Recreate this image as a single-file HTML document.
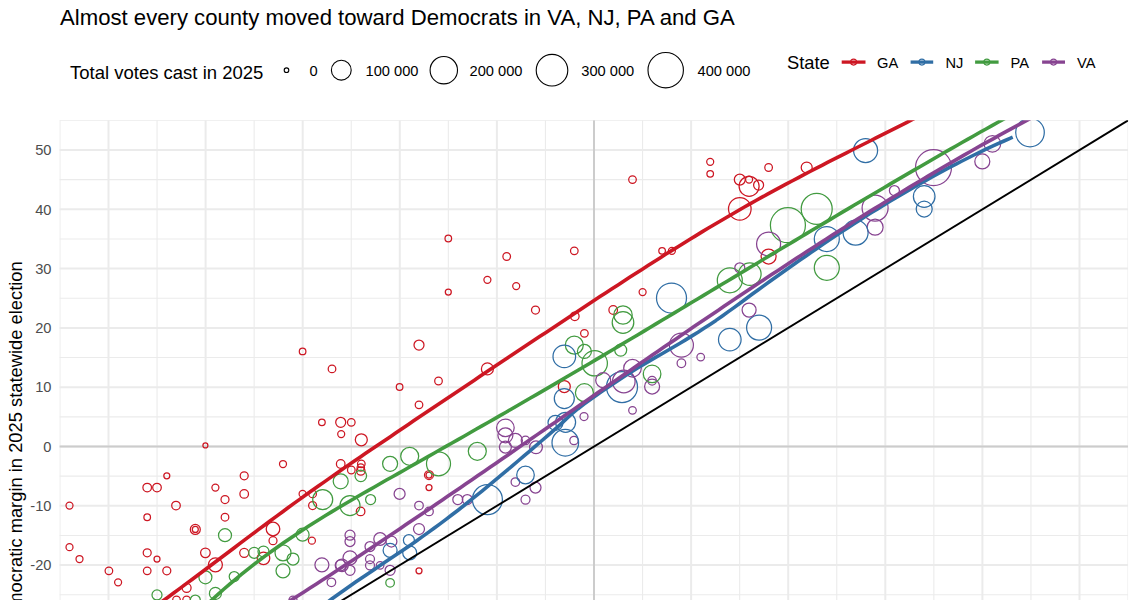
<!DOCTYPE html><html><head><meta charset="utf-8"><style>html,body{margin:0;padding:0;background:#fff;width:1137px;height:600px;overflow:hidden}svg{display:block}text{font-family:"Liberation Sans",sans-serif}</style></head><body>
<svg width="1137" height="600" viewBox="0 0 1137 600">
<rect width="1137" height="600" fill="#fff"/>
<text x="60" y="25" font-size="22.15" fill="#000">Almost every county moved toward Democrats in VA, NJ, PA and GA</text>
<text x="70" y="78.5" font-size="18.5" fill="#000">Total votes cast in 2025</text>
<circle cx="286.5" cy="70.2" r="2.3" fill="none" stroke="#000" stroke-width="1.1"/>
<text x="309.5" y="75.8" font-size="14.67" fill="#000">0</text>
<circle cx="341.3" cy="70.2" r="9.9" fill="none" stroke="#000" stroke-width="1.1"/>
<text x="365.5" y="75.8" font-size="14.67" fill="#000">100 000</text>
<circle cx="443.8" cy="70.2" r="13.7" fill="none" stroke="#000" stroke-width="1.1"/>
<text x="469.5" y="75.8" font-size="14.67" fill="#000">200 000</text>
<circle cx="552" cy="70.2" r="15.8" fill="none" stroke="#000" stroke-width="1.1"/>
<text x="581.3" y="75.8" font-size="14.67" fill="#000">300 000</text>
<circle cx="665.7" cy="70.2" r="17.7" fill="none" stroke="#000" stroke-width="1.1"/>
<text x="697.5" y="75.8" font-size="14.67" fill="#000">400 000</text>
<text x="787" y="68.8" font-size="18.33" fill="#000">State</text>
<line x1="841.7" y1="62.1" x2="865.5" y2="62.1" stroke="#CD1723" stroke-width="3.3"/>
<circle cx="853.6" cy="62.1" r="3" fill="none" stroke="#CD1723" stroke-width="1.1"/>
<text x="877" y="67.8" font-size="14.67" fill="#000">GA</text>
<line x1="910.6" y1="62.1" x2="933.2" y2="62.1" stroke="#306EA5" stroke-width="3.3"/>
<circle cx="921.9000000000001" cy="62.1" r="3" fill="none" stroke="#306EA5" stroke-width="1.1"/>
<text x="945.5" y="67.8" font-size="14.67" fill="#000">NJ</text>
<line x1="975.1" y1="62.1" x2="998.6" y2="62.1" stroke="#429B40" stroke-width="3.3"/>
<circle cx="986.85" cy="62.1" r="3" fill="none" stroke="#429B40" stroke-width="1.1"/>
<text x="1010.5" y="67.8" font-size="14.67" fill="#000">PA</text>
<line x1="1042.1" y1="62.1" x2="1065" y2="62.1" stroke="#874491" stroke-width="3.3"/>
<circle cx="1053.55" cy="62.1" r="3" fill="none" stroke="#874491" stroke-width="1.1"/>
<text x="1077" y="67.8" font-size="14.67" fill="#000">VA</text>
<text x="51.5" y="155.20" font-size="14.67" fill="#4D4D4D" text-anchor="end">50</text>
<text x="51.5" y="214.50" font-size="14.67" fill="#4D4D4D" text-anchor="end">40</text>
<text x="51.5" y="273.80" font-size="14.67" fill="#4D4D4D" text-anchor="end">30</text>
<text x="51.5" y="333.10" font-size="14.67" fill="#4D4D4D" text-anchor="end">20</text>
<text x="51.5" y="392.40" font-size="14.67" fill="#4D4D4D" text-anchor="end">10</text>
<text x="51.5" y="451.70" font-size="14.67" fill="#4D4D4D" text-anchor="end">0</text>
<text x="51.5" y="511.00" font-size="14.67" fill="#4D4D4D" text-anchor="end">-10</text>
<text x="51.5" y="570.30" font-size="14.67" fill="#4D4D4D" text-anchor="end">-20</text>
<text transform="translate(21.5,261.3) rotate(-90)" font-size="18.33" fill="#000" text-anchor="end">Democratic margin in 2025 statewide election</text>
<defs><clipPath id="cp"><rect x="59.4" y="120.35" width="1068.6999999999998" height="484.65"/></clipPath></defs>
<g clip-path="url(#cp)">
<line x1="59.95" y1="120.35" x2="59.95" y2="600" stroke="#EBEBEB" stroke-width="1.1"/>
<line x1="108.50" y1="120.35" x2="108.50" y2="600" stroke="#EBEBEB" stroke-width="2"/>
<line x1="157.05" y1="120.35" x2="157.05" y2="600" stroke="#EBEBEB" stroke-width="1.1"/>
<line x1="205.60" y1="120.35" x2="205.60" y2="600" stroke="#EBEBEB" stroke-width="2"/>
<line x1="254.15" y1="120.35" x2="254.15" y2="600" stroke="#EBEBEB" stroke-width="1.1"/>
<line x1="302.70" y1="120.35" x2="302.70" y2="600" stroke="#EBEBEB" stroke-width="2"/>
<line x1="351.25" y1="120.35" x2="351.25" y2="600" stroke="#EBEBEB" stroke-width="1.1"/>
<line x1="399.80" y1="120.35" x2="399.80" y2="600" stroke="#EBEBEB" stroke-width="2"/>
<line x1="448.35" y1="120.35" x2="448.35" y2="600" stroke="#EBEBEB" stroke-width="1.1"/>
<line x1="496.90" y1="120.35" x2="496.90" y2="600" stroke="#EBEBEB" stroke-width="2"/>
<line x1="545.45" y1="120.35" x2="545.45" y2="600" stroke="#EBEBEB" stroke-width="1.1"/>
<line x1="594.00" y1="120.35" x2="594.00" y2="600" stroke="#EBEBEB" stroke-width="2"/>
<line x1="642.55" y1="120.35" x2="642.55" y2="600" stroke="#EBEBEB" stroke-width="1.1"/>
<line x1="691.10" y1="120.35" x2="691.10" y2="600" stroke="#EBEBEB" stroke-width="2"/>
<line x1="739.65" y1="120.35" x2="739.65" y2="600" stroke="#EBEBEB" stroke-width="1.1"/>
<line x1="788.20" y1="120.35" x2="788.20" y2="600" stroke="#EBEBEB" stroke-width="2"/>
<line x1="836.75" y1="120.35" x2="836.75" y2="600" stroke="#EBEBEB" stroke-width="1.1"/>
<line x1="885.30" y1="120.35" x2="885.30" y2="600" stroke="#EBEBEB" stroke-width="2"/>
<line x1="933.85" y1="120.35" x2="933.85" y2="600" stroke="#EBEBEB" stroke-width="1.1"/>
<line x1="982.40" y1="120.35" x2="982.40" y2="600" stroke="#EBEBEB" stroke-width="2"/>
<line x1="1030.95" y1="120.35" x2="1030.95" y2="600" stroke="#EBEBEB" stroke-width="1.1"/>
<line x1="1079.50" y1="120.35" x2="1079.50" y2="600" stroke="#EBEBEB" stroke-width="2"/>
<line x1="1128.05" y1="120.35" x2="1128.05" y2="600" stroke="#EBEBEB" stroke-width="1.1"/>
<line x1="59.4" y1="624.40" x2="1128.1" y2="624.40" stroke="#EBEBEB" stroke-width="2"/>
<line x1="59.4" y1="594.75" x2="1128.1" y2="594.75" stroke="#EBEBEB" stroke-width="1.1"/>
<line x1="59.4" y1="565.10" x2="1128.1" y2="565.10" stroke="#EBEBEB" stroke-width="2"/>
<line x1="59.4" y1="535.45" x2="1128.1" y2="535.45" stroke="#EBEBEB" stroke-width="1.1"/>
<line x1="59.4" y1="505.80" x2="1128.1" y2="505.80" stroke="#EBEBEB" stroke-width="2"/>
<line x1="59.4" y1="476.15" x2="1128.1" y2="476.15" stroke="#EBEBEB" stroke-width="1.1"/>
<line x1="59.4" y1="446.50" x2="1128.1" y2="446.50" stroke="#EBEBEB" stroke-width="2"/>
<line x1="59.4" y1="416.85" x2="1128.1" y2="416.85" stroke="#EBEBEB" stroke-width="1.1"/>
<line x1="59.4" y1="387.20" x2="1128.1" y2="387.20" stroke="#EBEBEB" stroke-width="2"/>
<line x1="59.4" y1="357.55" x2="1128.1" y2="357.55" stroke="#EBEBEB" stroke-width="1.1"/>
<line x1="59.4" y1="327.90" x2="1128.1" y2="327.90" stroke="#EBEBEB" stroke-width="2"/>
<line x1="59.4" y1="298.25" x2="1128.1" y2="298.25" stroke="#EBEBEB" stroke-width="1.1"/>
<line x1="59.4" y1="268.60" x2="1128.1" y2="268.60" stroke="#EBEBEB" stroke-width="2"/>
<line x1="59.4" y1="238.95" x2="1128.1" y2="238.95" stroke="#EBEBEB" stroke-width="1.1"/>
<line x1="59.4" y1="209.30" x2="1128.1" y2="209.30" stroke="#EBEBEB" stroke-width="2"/>
<line x1="59.4" y1="179.65" x2="1128.1" y2="179.65" stroke="#EBEBEB" stroke-width="1.1"/>
<line x1="59.4" y1="150.00" x2="1128.1" y2="150.00" stroke="#EBEBEB" stroke-width="2"/>
<line x1="59.4" y1="120.35" x2="1128.1" y2="120.35" stroke="#EBEBEB" stroke-width="1.1"/>
<line x1="594.0" y1="120.35" x2="594.0" y2="600" stroke="#CCCCCC" stroke-width="2"/>
<line x1="59.4" y1="446.5" x2="1128.1" y2="446.5" stroke="#CCCCCC" stroke-width="2"/>
<circle cx="69.5" cy="505.6" r="3.5" fill="none" stroke="#CD1723" stroke-width="1.25"/>
<circle cx="69.5" cy="547.2" r="3.5" fill="none" stroke="#CD1723" stroke-width="1.25"/>
<circle cx="79.5" cy="559" r="3.5" fill="none" stroke="#CD1723" stroke-width="1.25"/>
<circle cx="108.9" cy="570.8" r="3.8" fill="none" stroke="#CD1723" stroke-width="1.25"/>
<circle cx="118.1" cy="582.3" r="3.5" fill="none" stroke="#CD1723" stroke-width="1.25"/>
<circle cx="147.2" cy="487.6" r="4.3" fill="none" stroke="#CD1723" stroke-width="1.25"/>
<circle cx="157" cy="487.6" r="4.3" fill="none" stroke="#CD1723" stroke-width="1.25"/>
<circle cx="166.8" cy="475.8" r="3" fill="none" stroke="#CD1723" stroke-width="1.25"/>
<circle cx="176" cy="505.6" r="4.3" fill="none" stroke="#CD1723" stroke-width="1.25"/>
<circle cx="147.2" cy="517.2" r="3.3" fill="none" stroke="#CD1723" stroke-width="1.25"/>
<circle cx="195.3" cy="529.4" r="5" fill="none" stroke="#CD1723" stroke-width="1.25"/>
<circle cx="195.3" cy="529.4" r="3" fill="none" stroke="#CD1723" stroke-width="1.25"/>
<circle cx="147.2" cy="552.8" r="4" fill="none" stroke="#CD1723" stroke-width="1.25"/>
<circle cx="157" cy="559" r="3" fill="none" stroke="#CD1723" stroke-width="1.25"/>
<circle cx="147.2" cy="570.8" r="3.8" fill="none" stroke="#CD1723" stroke-width="1.25"/>
<circle cx="166.8" cy="570.8" r="4" fill="none" stroke="#CD1723" stroke-width="1.25"/>
<circle cx="215.4" cy="487.6" r="3.5" fill="none" stroke="#CD1723" stroke-width="1.25"/>
<circle cx="225" cy="499.6" r="4" fill="none" stroke="#CD1723" stroke-width="1.25"/>
<circle cx="244.2" cy="475.8" r="4" fill="none" stroke="#CD1723" stroke-width="1.25"/>
<circle cx="244.2" cy="493.9" r="4.3" fill="none" stroke="#CD1723" stroke-width="1.25"/>
<circle cx="225" cy="517.2" r="3.8" fill="none" stroke="#CD1723" stroke-width="1.25"/>
<circle cx="283" cy="464" r="3.5" fill="none" stroke="#CD1723" stroke-width="1.25"/>
<circle cx="205.4" cy="552.8" r="4.8" fill="none" stroke="#CD1723" stroke-width="1.25"/>
<circle cx="215.4" cy="564.8" r="7" fill="none" stroke="#CD1723" stroke-width="1.25"/>
<circle cx="186.6" cy="587.8" r="4.5" fill="none" stroke="#CD1723" stroke-width="1.25"/>
<circle cx="176.5" cy="600" r="3.8" fill="none" stroke="#CD1723" stroke-width="1.25"/>
<circle cx="186.6" cy="600" r="3.8" fill="none" stroke="#CD1723" stroke-width="1.25"/>
<circle cx="244.2" cy="552.8" r="4.5" fill="none" stroke="#CD1723" stroke-width="1.25"/>
<circle cx="273" cy="529" r="6.8" fill="none" stroke="#CD1723" stroke-width="1.25"/>
<circle cx="273" cy="540.7" r="4" fill="none" stroke="#CD1723" stroke-width="1.25"/>
<circle cx="263.5" cy="558.3" r="6.3" fill="none" stroke="#CD1723" stroke-width="1.25"/>
<circle cx="302.6" cy="493.9" r="3.5" fill="none" stroke="#CD1723" stroke-width="1.25"/>
<circle cx="312.6" cy="493.9" r="3.8" fill="none" stroke="#CD1723" stroke-width="1.25"/>
<circle cx="312.6" cy="505.6" r="4" fill="none" stroke="#CD1723" stroke-width="1.25"/>
<circle cx="311.9" cy="540.7" r="3.5" fill="none" stroke="#CD1723" stroke-width="1.25"/>
<circle cx="340.7" cy="464" r="4.3" fill="none" stroke="#CD1723" stroke-width="1.25"/>
<circle cx="225" cy="535.2" r="6.5" fill="none" stroke="#429B40" stroke-width="1.25"/>
<circle cx="205.4" cy="577.3" r="6.5" fill="none" stroke="#429B40" stroke-width="1.25"/>
<circle cx="234.2" cy="576.6" r="5" fill="none" stroke="#429B40" stroke-width="1.25"/>
<circle cx="157" cy="594.9" r="5" fill="none" stroke="#429B40" stroke-width="1.25"/>
<circle cx="215.4" cy="593.4" r="6" fill="none" stroke="#429B40" stroke-width="1.25"/>
<circle cx="195.3" cy="600" r="5" fill="none" stroke="#429B40" stroke-width="1.25"/>
<circle cx="254.2" cy="552.8" r="5.5" fill="none" stroke="#429B40" stroke-width="1.25"/>
<circle cx="263.5" cy="551.5" r="5.5" fill="none" stroke="#429B40" stroke-width="1.25"/>
<circle cx="283" cy="552.8" r="8" fill="none" stroke="#429B40" stroke-width="1.25"/>
<circle cx="293" cy="559" r="6" fill="none" stroke="#429B40" stroke-width="1.25"/>
<circle cx="283" cy="570.8" r="7" fill="none" stroke="#429B40" stroke-width="1.25"/>
<circle cx="302.6" cy="534.7" r="6.5" fill="none" stroke="#429B40" stroke-width="1.25"/>
<circle cx="322.7" cy="499.6" r="10" fill="none" stroke="#429B40" stroke-width="1.25"/>
<circle cx="340.7" cy="481.3" r="7.5" fill="none" stroke="#429B40" stroke-width="1.25"/>
<circle cx="321.9" cy="564.8" r="7" fill="none" stroke="#874491" stroke-width="1.25"/>
<circle cx="340.7" cy="565.3" r="5.5" fill="none" stroke="#874491" stroke-width="1.25"/>
<circle cx="331.4" cy="582.3" r="4.3" fill="none" stroke="#874491" stroke-width="1.25"/>
<circle cx="293" cy="600" r="4" fill="none" stroke="#874491" stroke-width="1.25"/>
<circle cx="302.6" cy="351.4" r="3.3" fill="none" stroke="#CD1723" stroke-width="1.25"/>
<circle cx="332" cy="368.9" r="3.8" fill="none" stroke="#CD1723" stroke-width="1.25"/>
<circle cx="321.9" cy="422.3" r="3.3" fill="none" stroke="#CD1723" stroke-width="1.25"/>
<circle cx="340.7" cy="422.3" r="5" fill="none" stroke="#CD1723" stroke-width="1.25"/>
<circle cx="341.2" cy="434.1" r="3.5" fill="none" stroke="#CD1723" stroke-width="1.25"/>
<circle cx="205.4" cy="445.4" r="2.5" fill="none" stroke="#CD1723" stroke-width="1.25"/>
<circle cx="351.3" cy="470" r="3.8" fill="none" stroke="#CD1723" stroke-width="1.25"/>
<circle cx="361.3" cy="463.8" r="3.8" fill="none" stroke="#CD1723" stroke-width="1.25"/>
<circle cx="429" cy="475" r="4.5" fill="none" stroke="#CD1723" stroke-width="1.25"/>
<circle cx="429" cy="475" r="3" fill="none" stroke="#CD1723" stroke-width="1.25"/>
<circle cx="429" cy="487.6" r="3" fill="none" stroke="#CD1723" stroke-width="1.25"/>
<circle cx="360.8" cy="467.5" r="3.7" fill="none" stroke="#CD1723" stroke-width="1.25"/>
<circle cx="360.8" cy="471" r="4.2" fill="none" stroke="#CD1723" stroke-width="1.25"/>
<circle cx="360.8" cy="475.8" r="5.8" fill="none" stroke="#429B40" stroke-width="1.25"/>
<circle cx="360.6" cy="511.4" r="4.3" fill="none" stroke="#CD1723" stroke-width="1.25"/>
<circle cx="419" cy="570.8" r="3" fill="none" stroke="#CD1723" stroke-width="1.25"/>
<circle cx="390.1" cy="463.8" r="7.5" fill="none" stroke="#429B40" stroke-width="1.25"/>
<circle cx="409.7" cy="456.3" r="9" fill="none" stroke="#429B40" stroke-width="1.25"/>
<circle cx="438.5" cy="463.8" r="12" fill="none" stroke="#429B40" stroke-width="1.25"/>
<circle cx="477.3" cy="451.3" r="9" fill="none" stroke="#429B40" stroke-width="1.25"/>
<circle cx="350" cy="505.6" r="10" fill="none" stroke="#429B40" stroke-width="1.25"/>
<circle cx="370.6" cy="499.6" r="5" fill="none" stroke="#429B40" stroke-width="1.25"/>
<circle cx="390.1" cy="582.8" r="4.3" fill="none" stroke="#429B40" stroke-width="1.25"/>
<circle cx="399.6" cy="493.9" r="5.5" fill="none" stroke="#874491" stroke-width="1.25"/>
<circle cx="419" cy="505.6" r="4.3" fill="none" stroke="#874491" stroke-width="1.25"/>
<circle cx="429" cy="511.4" r="4.3" fill="none" stroke="#874491" stroke-width="1.25"/>
<circle cx="457.8" cy="499.6" r="5" fill="none" stroke="#874491" stroke-width="1.25"/>
<circle cx="467.3" cy="499.6" r="5" fill="none" stroke="#874491" stroke-width="1.25"/>
<circle cx="350" cy="535.2" r="5" fill="none" stroke="#874491" stroke-width="1.25"/>
<circle cx="350" cy="541.5" r="5" fill="none" stroke="#874491" stroke-width="1.25"/>
<circle cx="380.1" cy="539" r="6.3" fill="none" stroke="#874491" stroke-width="1.25"/>
<circle cx="370" cy="546.5" r="5" fill="none" stroke="#874491" stroke-width="1.25"/>
<circle cx="391.4" cy="541.5" r="5.5" fill="none" stroke="#874491" stroke-width="1.25"/>
<circle cx="370" cy="559" r="4.5" fill="none" stroke="#874491" stroke-width="1.25"/>
<circle cx="370" cy="565.3" r="4.5" fill="none" stroke="#874491" stroke-width="1.25"/>
<circle cx="380.1" cy="565.3" r="3.8" fill="none" stroke="#874491" stroke-width="1.25"/>
<circle cx="390.1" cy="570.3" r="5" fill="none" stroke="#874491" stroke-width="1.25"/>
<circle cx="350" cy="557.8" r="7" fill="none" stroke="#874491" stroke-width="1.25"/>
<circle cx="350" cy="570.3" r="5" fill="none" stroke="#874491" stroke-width="1.25"/>
<circle cx="342" cy="565.3" r="6.3" fill="none" stroke="#874491" stroke-width="1.25"/>
<circle cx="419" cy="529" r="5.5" fill="none" stroke="#874491" stroke-width="1.25"/>
<circle cx="515.4" cy="482.1" r="4.3" fill="none" stroke="#874491" stroke-width="1.25"/>
<circle cx="535.5" cy="487.6" r="5.5" fill="none" stroke="#874491" stroke-width="1.25"/>
<circle cx="525.5" cy="499.6" r="4.5" fill="none" stroke="#874491" stroke-width="1.25"/>
<circle cx="390.1" cy="550.3" r="7" fill="none" stroke="#306EA5" stroke-width="1.25"/>
<circle cx="408.9" cy="540.2" r="5.5" fill="none" stroke="#306EA5" stroke-width="1.25"/>
<circle cx="409.7" cy="552.8" r="7" fill="none" stroke="#306EA5" stroke-width="1.25"/>
<circle cx="487.4" cy="499.6" r="15" fill="none" stroke="#306EA5" stroke-width="1.25"/>
<circle cx="525.5" cy="475" r="8.8" fill="none" stroke="#306EA5" stroke-width="1.25"/>
<circle cx="535.5" cy="310" r="4" fill="none" stroke="#CD1723" stroke-width="1.25"/>
<circle cx="574.8" cy="316.3" r="4.3" fill="none" stroke="#CD1723" stroke-width="1.25"/>
<circle cx="613.2" cy="310" r="4.3" fill="none" stroke="#CD1723" stroke-width="1.25"/>
<circle cx="584.4" cy="333.3" r="3.8" fill="none" stroke="#CD1723" stroke-width="1.25"/>
<circle cx="419" cy="345.1" r="5" fill="none" stroke="#CD1723" stroke-width="1.25"/>
<circle cx="438.5" cy="381" r="3.8" fill="none" stroke="#CD1723" stroke-width="1.25"/>
<circle cx="399.6" cy="387" r="3.3" fill="none" stroke="#CD1723" stroke-width="1.25"/>
<circle cx="419" cy="404.8" r="3.8" fill="none" stroke="#CD1723" stroke-width="1.25"/>
<circle cx="487.4" cy="368.9" r="6" fill="none" stroke="#CD1723" stroke-width="1.25"/>
<circle cx="351.3" cy="422.3" r="3.8" fill="none" stroke="#CD1723" stroke-width="1.25"/>
<circle cx="361.3" cy="439.8" r="6" fill="none" stroke="#CD1723" stroke-width="1.25"/>
<circle cx="564.3" cy="386.5" r="6" fill="none" stroke="#CD1723" stroke-width="1.25"/>
<circle cx="584" cy="416.5" r="4" fill="none" stroke="#874491" stroke-width="1.25"/>
<circle cx="574" cy="440.5" r="4.2" fill="none" stroke="#874491" stroke-width="1.25"/>
<circle cx="574.3" cy="345.1" r="9" fill="none" stroke="#429B40" stroke-width="1.25"/>
<circle cx="584.4" cy="351.4" r="7" fill="none" stroke="#429B40" stroke-width="1.25"/>
<circle cx="594.7" cy="363.3" r="12.7" fill="none" stroke="#429B40" stroke-width="1.25"/>
<circle cx="584.4" cy="392.7" r="9" fill="none" stroke="#429B40" stroke-width="1.25"/>
<circle cx="623" cy="315" r="9.2" fill="none" stroke="#429B40" stroke-width="1.25"/>
<circle cx="623" cy="322.5" r="10.8" fill="none" stroke="#429B40" stroke-width="1.25"/>
<circle cx="622" cy="387" r="15.5" fill="none" stroke="#306EA5" stroke-width="1.25"/>
<circle cx="620.7" cy="350.1" r="6" fill="none" stroke="#429B40" stroke-width="1.25"/>
<circle cx="564.3" cy="356.4" r="11.3" fill="none" stroke="#306EA5" stroke-width="1.25"/>
<circle cx="564.3" cy="398.5" r="10" fill="none" stroke="#306EA5" stroke-width="1.25"/>
<circle cx="555.5" cy="422.8" r="7.5" fill="none" stroke="#306EA5" stroke-width="1.25"/>
<circle cx="565.6" cy="422.3" r="10" fill="none" stroke="#306EA5" stroke-width="1.25"/>
<circle cx="565.3" cy="442.7" r="13.3" fill="none" stroke="#306EA5" stroke-width="1.25"/>
<circle cx="536" cy="447.3" r="6.4" fill="none" stroke="#874491" stroke-width="1.25"/>
<circle cx="505.4" cy="427.8" r="8.8" fill="none" stroke="#874491" stroke-width="1.25"/>
<circle cx="505.4" cy="435.3" r="7.5" fill="none" stroke="#874491" stroke-width="1.25"/>
<circle cx="515.4" cy="440.4" r="7" fill="none" stroke="#874491" stroke-width="1.25"/>
<circle cx="525.5" cy="440.4" r="4.3" fill="none" stroke="#874491" stroke-width="1.25"/>
<circle cx="505.4" cy="447" r="6" fill="none" stroke="#874491" stroke-width="1.25"/>
<circle cx="603.2" cy="380.2" r="7.5" fill="none" stroke="#874491" stroke-width="1.25"/>
<circle cx="759.1" cy="327.6" r="12.5" fill="none" stroke="#306EA5" stroke-width="1.25"/>
<circle cx="729.8" cy="339.6" r="11.3" fill="none" stroke="#306EA5" stroke-width="1.25"/>
<circle cx="749.1" cy="310" r="7" fill="none" stroke="#874491" stroke-width="1.25"/>
<circle cx="681.4" cy="345.1" r="12" fill="none" stroke="#874491" stroke-width="1.25"/>
<circle cx="681.4" cy="363.2" r="4.3" fill="none" stroke="#874491" stroke-width="1.25"/>
<circle cx="700.7" cy="357.1" r="3.8" fill="none" stroke="#874491" stroke-width="1.25"/>
<circle cx="632.5" cy="368.2" r="8.8" fill="none" stroke="#874491" stroke-width="1.25"/>
<circle cx="623.8" cy="381.5" r="11.3" fill="none" stroke="#874491" stroke-width="1.25"/>
<circle cx="652.1" cy="386.5" r="7.5" fill="none" stroke="#874491" stroke-width="1.25"/>
<circle cx="652.1" cy="380.7" r="4.3" fill="none" stroke="#874491" stroke-width="1.25"/>
<circle cx="632.5" cy="410.3" r="3.8" fill="none" stroke="#874491" stroke-width="1.25"/>
<circle cx="652.1" cy="373.9" r="8.8" fill="none" stroke="#429B40" stroke-width="1.25"/>
<circle cx="448.3" cy="238.5" r="3.3" fill="none" stroke="#CD1723" stroke-width="1.25"/>
<circle cx="506.7" cy="256.5" r="3.8" fill="none" stroke="#CD1723" stroke-width="1.25"/>
<circle cx="574.3" cy="250.8" r="3.8" fill="none" stroke="#CD1723" stroke-width="1.25"/>
<circle cx="487.4" cy="279.8" r="3.5" fill="none" stroke="#CD1723" stroke-width="1.25"/>
<circle cx="516.2" cy="286.1" r="3.5" fill="none" stroke="#CD1723" stroke-width="1.25"/>
<circle cx="448.3" cy="292.1" r="3" fill="none" stroke="#CD1723" stroke-width="1.25"/>
<circle cx="632.5" cy="179.6" r="3.8" fill="none" stroke="#CD1723" stroke-width="1.25"/>
<circle cx="710.2" cy="161.8" r="3.5" fill="none" stroke="#CD1723" stroke-width="1.25"/>
<circle cx="710.2" cy="173.8" r="3.3" fill="none" stroke="#CD1723" stroke-width="1.25"/>
<circle cx="768.6" cy="167.5" r="3.8" fill="none" stroke="#CD1723" stroke-width="1.25"/>
<circle cx="806.7" cy="167.5" r="5.5" fill="none" stroke="#CD1723" stroke-width="1.25"/>
<circle cx="739.8" cy="179.6" r="5.5" fill="none" stroke="#CD1723" stroke-width="1.25"/>
<circle cx="749.1" cy="186.3" r="10" fill="none" stroke="#CD1723" stroke-width="1.25"/>
<circle cx="749.1" cy="179.6" r="3.5" fill="none" stroke="#CD1723" stroke-width="1.25"/>
<circle cx="758.6" cy="185.1" r="5" fill="none" stroke="#CD1723" stroke-width="1.25"/>
<circle cx="739.8" cy="208.9" r="11.3" fill="none" stroke="#CD1723" stroke-width="1.25"/>
<circle cx="662.1" cy="250.8" r="3.3" fill="none" stroke="#CD1723" stroke-width="1.25"/>
<circle cx="671.9" cy="250.8" r="3.5" fill="none" stroke="#CD1723" stroke-width="1.25"/>
<circle cx="642.6" cy="292.1" r="3.5" fill="none" stroke="#CD1723" stroke-width="1.25"/>
<circle cx="768.6" cy="256.5" r="7.5" fill="none" stroke="#CD1723" stroke-width="1.25"/>
<circle cx="787.9" cy="225.2" r="17.5" fill="none" stroke="#429B40" stroke-width="1.25"/>
<circle cx="816.7" cy="208.9" r="15.5" fill="none" stroke="#429B40" stroke-width="1.25"/>
<circle cx="826.8" cy="267.8" r="12.5" fill="none" stroke="#429B40" stroke-width="1.25"/>
<circle cx="729.8" cy="280.3" r="12.5" fill="none" stroke="#429B40" stroke-width="1.25"/>
<circle cx="749.8" cy="274.1" r="11.3" fill="none" stroke="#429B40" stroke-width="1.25"/>
<circle cx="768.6" cy="244" r="12" fill="none" stroke="#874491" stroke-width="1.25"/>
<circle cx="739.8" cy="267.8" r="5" fill="none" stroke="#874491" stroke-width="1.25"/>
<circle cx="875.1" cy="208.1" r="13" fill="none" stroke="#874491" stroke-width="1.25"/>
<circle cx="875.1" cy="227.2" r="8" fill="none" stroke="#874491" stroke-width="1.25"/>
<circle cx="894.4" cy="190.6" r="5" fill="none" stroke="#874491" stroke-width="1.25"/>
<circle cx="826.8" cy="239" r="12.5" fill="none" stroke="#306EA5" stroke-width="1.25"/>
<circle cx="855.6" cy="232.7" r="12.5" fill="none" stroke="#306EA5" stroke-width="1.25"/>
<circle cx="671.5" cy="298" r="15" fill="none" stroke="#306EA5" stroke-width="1.25"/>
<circle cx="865.6" cy="150.5" r="12" fill="none" stroke="#306EA5" stroke-width="1.25"/>
<circle cx="1030" cy="132.5" r="14.3" fill="none" stroke="#306EA5" stroke-width="1.25"/>
<circle cx="924.2" cy="196.5" r="10.8" fill="none" stroke="#306EA5" stroke-width="1.25"/>
<circle cx="924.2" cy="209" r="8" fill="none" stroke="#306EA5" stroke-width="1.25"/>
<circle cx="982.3" cy="161.4" r="7.5" fill="none" stroke="#874491" stroke-width="1.25"/>
<circle cx="933.5" cy="167.6" r="18" fill="none" stroke="#874491" stroke-width="1.25"/>
<circle cx="992.4" cy="143.8" r="8.3" fill="none" stroke="#874491" stroke-width="1.25"/>
<path d="M150.0,610.2 L156.0,605.9 L162.0,601.5 L168.0,597.2 L174.0,592.8 L180.0,588.4 L186.0,583.9 L192.0,579.5 L198.0,575.0 L204.0,570.5 L210.0,566.0 L216.0,561.5 L222.0,557.0 L228.0,552.5 L234.0,548.0 L240.0,543.4 L246.0,538.9 L252.0,534.4 L258.0,529.9 L264.0,525.5 L270.0,521.0 L276.0,516.6 L282.0,512.2 L288.0,507.8 L294.0,503.4 L300.0,499.1 L306.0,494.8 L312.0,490.5 L318.0,486.3 L324.0,482.1 L330.0,477.9 L336.0,473.7 L342.0,469.6 L348.0,465.4 L354.0,461.3 L360.0,457.2 L366.0,453.1 L372.0,449.1 L378.0,445.0 L384.0,440.9 L390.0,436.9 L396.0,432.8 L402.0,428.7 L408.0,424.7 L414.0,420.6 L420.0,416.6 L426.0,412.6 L432.0,408.5 L438.0,404.5 L444.0,400.5 L450.0,396.4 L456.0,392.4 L462.0,388.4 L468.0,384.4 L474.0,380.4 L480.0,376.3 L486.0,372.3 L492.0,368.3 L498.0,364.3 L504.0,360.3 L510.0,356.3 L516.0,352.3 L522.0,348.3 L528.0,344.3 L534.0,340.3 L540.0,336.3 L546.0,332.4 L552.0,328.4 L558.0,324.4 L564.0,320.4 L570.0,316.4 L576.0,312.5 L582.0,308.5 L588.0,304.5 L594.0,300.6 L600.0,296.6 L606.0,292.7 L612.0,288.8 L618.0,284.9 L624.0,281.0 L630.0,277.1 L636.0,273.2 L642.0,269.4 L648.0,265.5 L654.0,261.7 L660.0,257.9 L666.0,254.1 L672.0,250.4 L678.0,246.7 L684.0,242.9 L690.0,239.2 L696.0,235.6 L702.0,231.9 L708.0,228.3 L714.0,224.7 L720.0,221.2 L726.0,217.7 L732.0,214.2 L738.0,210.7 L744.0,207.3 L750.0,203.9 L756.0,200.5 L762.0,197.2 L768.0,193.9 L774.0,190.6 L780.0,187.4 L786.0,184.2 L792.0,181.0 L798.0,177.8 L804.0,174.7 L810.0,171.5 L816.0,168.4 L822.0,165.3 L828.0,162.2 L834.0,159.2 L840.0,156.1 L846.0,153.1 L852.0,150.0 L858.0,147.0 L864.0,144.0 L870.0,141.0 L876.0,137.9 L882.0,134.9 L888.0,131.9 L894.0,128.8 L900.0,125.8 L906.0,122.8 L912.0,119.7 L918.0,116.6 L924.0,113.6 L930.0,110.5 L935.0,107.9" fill="none" stroke="#CD1723" stroke-width="3.6" stroke-linejoin="round"/>
<path d="M320.0,607.9 L326.0,603.3 L332.0,598.8 L338.0,594.5 L344.0,590.2 L350.0,586.0 L356.0,581.8 L362.0,577.7 L368.0,573.7 L374.0,569.7 L380.0,565.6 L386.0,561.6 L392.0,557.6 L398.0,553.6 L404.0,549.5 L410.0,545.4 L416.0,541.2 L422.0,536.9 L428.0,532.6 L434.0,528.3 L440.0,523.9 L446.0,519.4 L452.0,514.8 L458.0,510.2 L464.0,505.5 L470.0,500.7 L476.0,495.9 L482.0,491.1 L488.0,486.2 L494.0,481.2 L500.0,476.2 L506.0,471.2 L512.0,466.1 L518.0,461.0 L524.0,455.9 L530.0,450.8 L536.0,445.6 L542.0,440.5 L548.0,435.3 L554.0,430.1 L560.0,424.9 L566.0,419.1 L572.0,413.7 L578.0,408.7 L584.0,404.1 L590.0,399.8 L596.0,395.6 L602.0,391.4 L608.0,387.2 L614.0,383.2 L620.0,379.2 L626.0,375.3 L632.0,371.5 L638.0,367.8 L644.0,364.2 L650.0,360.6 L656.0,357.1 L662.0,353.7 L668.0,350.2 L674.0,346.7 L680.0,343.2 L686.0,339.6 L692.0,335.9 L698.0,332.2 L704.0,328.3 L710.0,324.4 L716.0,320.4 L722.0,316.2 L728.0,311.9 L734.0,307.6 L740.0,303.2 L746.0,298.7 L752.0,294.3 L758.0,290.0 L764.0,285.6 L770.0,281.3 L776.0,277.0 L782.0,272.7 L788.0,268.5 L794.0,264.2 L800.0,260.0 L806.0,255.9 L812.0,251.8 L818.0,247.7 L824.0,243.6 L830.0,239.6 L836.0,235.6 L842.0,231.6 L848.0,227.7 L854.0,223.8 L860.0,219.9 L866.0,216.1 L872.0,212.3 L878.0,208.6 L884.0,204.9 L890.0,201.3 L896.0,197.6 L902.0,194.1 L908.0,190.6 L914.0,187.1 L920.0,183.6 L926.0,180.3 L932.0,176.9 L938.0,173.6 L944.0,170.4 L950.0,167.2 L956.0,164.1 L962.0,161.0 L968.0,158.0 L974.0,155.0 L980.0,152.1 L986.0,149.2 L992.0,146.4 L998.0,143.7 L1004.0,141.0 L1010.0,138.3 L1012.7,137.2" fill="none" stroke="#306EA5" stroke-width="3.6" stroke-linejoin="round"/>
<path d="M200.0,611.0 L206.0,605.3 L212.0,599.7 L218.0,594.3 L224.0,589.0 L230.0,583.8 L236.0,578.8 L242.0,573.9 L248.0,569.1 L254.0,564.4 L260.0,559.8 L266.0,555.4 L272.0,551.0 L278.0,546.7 L284.0,542.5 L290.0,538.4 L296.0,534.4 L302.0,530.4 L308.0,526.6 L314.0,522.7 L320.0,519.0 L326.0,515.3 L332.0,511.6 L338.0,508.0 L344.0,504.5 L350.0,501.0 L356.0,497.5 L362.0,494.0 L368.0,490.6 L374.0,487.2 L380.0,483.7 L386.0,480.3 L392.0,477.0 L398.0,473.6 L404.0,470.2 L410.0,466.8 L416.0,463.4 L422.0,460.0 L428.0,456.6 L434.0,453.2 L440.0,449.8 L446.0,446.4 L452.0,443.0 L458.0,439.6 L464.0,436.2 L470.0,432.8 L476.0,429.3 L482.0,425.9 L488.0,422.5 L494.0,419.1 L500.0,415.6 L506.0,412.2 L512.0,408.7 L518.0,405.3 L524.0,401.8 L530.0,398.3 L536.0,394.9 L542.0,391.4 L548.0,387.9 L554.0,384.4 L560.0,380.9 L566.0,377.3 L572.0,373.8 L578.0,370.3 L584.0,366.7 L590.0,363.2 L596.0,359.6 L602.0,356.1 L608.0,352.5 L614.0,349.0 L620.0,345.4 L626.0,341.8 L632.0,338.3 L638.0,334.7 L644.0,331.1 L650.0,327.5 L656.0,323.9 L662.0,320.3 L668.0,316.7 L674.0,313.1 L680.0,309.5 L686.0,305.9 L692.0,302.3 L698.0,298.7 L704.0,295.1 L710.0,291.5 L716.0,287.9 L722.0,284.3 L728.0,280.7 L734.0,277.1 L740.0,273.5 L746.0,269.9 L752.0,266.3 L758.0,262.7 L764.0,259.0 L770.0,255.4 L776.0,251.8 L782.0,248.2 L788.0,244.7 L794.0,241.1 L800.0,237.5 L806.0,233.9 L812.0,230.3 L818.0,226.7 L824.0,223.1 L830.0,219.6 L836.0,216.0 L842.0,212.4 L848.0,208.9 L854.0,205.3 L860.0,201.8 L866.0,198.2 L872.0,194.7 L878.0,191.2 L884.0,187.7 L890.0,184.1 L896.0,180.6 L902.0,177.1 L908.0,173.6 L914.0,170.1 L920.0,166.7 L926.0,163.2 L932.0,159.7 L938.0,156.3 L944.0,152.8 L950.0,149.4 L956.0,146.0 L962.0,142.5 L968.0,139.1 L974.0,135.7 L980.0,132.3 L986.0,129.0 L992.0,125.6 L998.0,122.2 L1004.0,118.9 L1010.0,115.6 L1015.0,112.8" fill="none" stroke="#429B40" stroke-width="3.6" stroke-linejoin="round"/>
<path d="M280.0,607.3 L286.0,603.5 L292.0,599.6 L298.0,595.8 L304.0,592.0 L310.0,588.1 L316.0,584.2 L322.0,580.3 L328.0,576.4 L334.0,572.5 L340.0,568.6 L346.0,564.6 L352.0,560.7 L358.0,556.7 L364.0,552.7 L370.0,548.7 L376.0,544.8 L382.0,540.7 L388.0,536.7 L394.0,532.7 L400.0,528.7 L406.0,524.6 L412.0,520.6 L418.0,516.5 L424.0,512.4 L430.0,508.4 L436.0,504.3 L442.0,500.2 L448.0,496.1 L454.0,492.0 L460.0,487.9 L466.0,483.8 L472.0,479.7 L478.0,475.5 L484.0,471.4 L490.0,467.3 L496.0,463.2 L502.0,459.0 L508.0,454.9 L514.0,450.7 L520.0,446.6 L526.0,442.4 L532.0,438.3 L538.0,434.1 L544.0,430.0 L550.0,425.8 L556.0,421.7 L562.0,417.5 L568.0,413.3 L574.0,409.2 L580.0,405.0 L586.0,400.9 L592.0,396.7 L598.0,392.6 L604.0,388.4 L610.0,384.3 L616.0,380.1 L622.0,376.0 L628.0,371.9 L634.0,367.7 L640.0,363.6 L646.0,359.5 L652.0,355.3 L658.0,351.2 L664.0,347.1 L670.0,343.0 L676.0,338.9 L682.0,334.8 L688.0,330.7 L694.0,326.6 L700.0,322.6 L706.0,318.5 L712.0,314.4 L718.0,310.4 L724.0,306.3 L730.0,302.3 L736.0,298.3 L742.0,294.3 L748.0,290.2 L754.0,286.2 L760.0,282.3 L766.0,278.3 L772.0,274.3 L778.0,270.4 L784.0,266.4 L790.0,262.5 L796.0,258.6 L802.0,254.7 L808.0,250.8 L814.0,246.9 L820.0,243.0 L826.0,239.2 L832.0,235.3 L838.0,231.5 L844.0,227.7 L850.0,223.9 L856.0,220.1 L862.0,216.4 L868.0,212.6 L874.0,208.9 L880.0,205.2 L886.0,201.5 L892.0,197.8 L898.0,194.2 L904.0,190.5 L910.0,186.9 L916.0,183.3 L922.0,179.7 L928.0,176.1 L934.0,172.6 L940.0,169.0 L946.0,165.5 L952.0,162.1 L958.0,158.6 L964.0,155.1 L970.0,151.7 L976.0,148.3 L982.0,144.9 L988.0,141.6 L994.0,138.3 L1000.0,134.9 L1006.0,131.7 L1012.0,128.4 L1018.0,125.2 L1024.0,121.9 L1030.0,118.7 L1036.0,115.6 L1040.0,113.5" fill="none" stroke="#874491" stroke-width="3.6" stroke-linejoin="round"/>
<line x1="11.399999999999977" y1="802.3" x2="1176.6" y2="90.70000000000005" stroke="#000" stroke-width="1.9"/>
</g>
</svg></body></html>
